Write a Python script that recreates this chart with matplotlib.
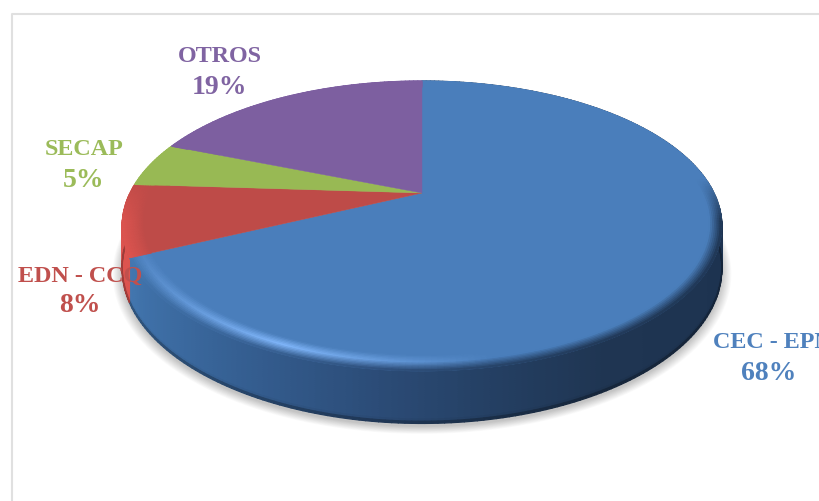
import numpy as np
import matplotlib
matplotlib.use("Agg")
import matplotlib.pyplot as plt
from matplotlib.collections import PolyCollection
from matplotlib.colors import to_rgb
from matplotlib.patches import Polygon

# Shares of the pie, clockwise from twelve o'clock
categories = ["CEC - EPN", "EDN - CCQ", "SECAP", "OTROS"]
shares = [68, 8, 5, 19]

face_colors = ["#4a7ebb", "#be4b48", "#98b954", "#7d5fa0"]
text_colors = ["#4f81bd", "#c0504d", "#9bbb59", "#8064a2"]
name_positions = [(772, 343), (80, 276), (84, 150), (220, 57)]
share_positions = [(769, 374), (80, 306), (84, 181), (220, 88)]

W, H = 820, 502
CX, CY = 422.0, 194.0     # apex of the slices on the canvas
RX, RY = 292.0, 137.5     # radii of the disc before perspective
PERSP = 0.2276            # perspective strength
DEPTH = 40.5              # height of the side wall
BEVEL = 0.93              # radius at which the rounded rim starts


def project(theta, r=1.0, drop=0.0):
    u = r * np.sin(theta)
    v = r * np.cos(theta)
    den = 1 + PERSP * v
    return CX + RX * u / den, CY - RY * v / den + drop / den


def hexes(*cols):
    return np.array([to_rgb(c) for c in cols])


# Colour of the blue wall from left to right
BLUE_U = [-1.0, -0.85, -0.5, -0.1, 0.2, 0.5, 1.0]
BLUE_SIDE = hexes("#4a80bd", "#4072aa", "#355f92", "#2b4b76", "#243f62", "#1f3552", "#1d3350")
SIDE_COLORS = [None, to_rgb("#dc544f"), to_rgb("#a3c55f"), to_rgb("#8a6cb0")]


def side_color(index, theta):
    if index == 0:
        u = np.sin(theta)
        return np.array([np.interp(u, BLUE_U, BLUE_SIDE[:, c]) for c in range(3)])
    return np.array(SIDE_COLORS[index])


def quads(xs, ys):
    """Turn two 2-D vertex grids into a list of quadrilaterals."""
    stack = np.stack([
        np.stack([xs[:-1, :-1], ys[:-1, :-1]], -1),
        np.stack([xs[1:, :-1], ys[1:, :-1]], -1),
        np.stack([xs[1:, 1:], ys[1:, 1:]], -1),
        np.stack([xs[:-1, 1:], ys[:-1, 1:]], -1),
    ], axis=2)
    return stack.reshape(-1, 4, 2)


fig = plt.figure(figsize=(W / 100, H / 100), dpi=100, facecolor="white")
ax = fig.add_axes([0, 0, 1, 1])
ax.set_xlim(0, W)
ax.set_ylim(H, 0)
ax.axis("off")

# Chart frame
ax.plot([12, 12, W], [H, 14.5, 14.5], color="#e0e0e0", lw=1.5, zorder=1)

edges = np.cumsum([0] + shares) / sum(shares) * 2 * np.pi

# Soft shadow under the disc
ring = np.linspace(0, 2 * np.pi, 360)
for grow in np.linspace(1.03, 1.0, 12):
    sx, sy = project(ring, grow, DEPTH)
    ax.add_patch(Polygon(np.c_[sx, sy + 3], closed=True, fc="black", ec="none",
                         alpha=0.02, zorder=2))

for i, (start, stop) in enumerate(zip(edges[:-1], edges[1:])):
    n = max(int((stop - start) / np.radians(1.0)), 2)
    thetas = np.linspace(start, stop, n + 1)
    mids = (thetas[:-1] + thetas[1:]) / 2
    top = np.array(to_rgb(face_colors[i]))

    # Side wall, with a thin dark line along its lower edge
    levels = np.linspace(0, 1, 25)
    grid_t, grid_l = np.meshgrid(thetas, levels)
    xs, ys = project(grid_t, 1.0, DEPTH * grid_l)
    cols = []
    for lev in (levels[:-1] + levels[1:]) / 2:
        shade = 1 - 0.4 * np.clip((lev - 0.93) / 0.07, 0, 1)
        for th in mids:
            cols.append(side_color(i, th) * shade)
    ax.add_collection(PolyCollection(quads(xs, ys), facecolors=cols, edgecolors=cols,
                                     linewidths=0.9, zorder=3))

    # Flat upper face
    px, py = project(thetas)
    ax.add_patch(Polygon(np.r_[[[CX, CY]], np.c_[px, py]], closed=True,
                         fc=top, ec=top, lw=0.3, zorder=4))

    # Rounded rim between the face and the wall
    radii = np.linspace(BEVEL, 1.0, 13)
    grid_t, grid_r = np.meshgrid(thetas, radii)
    xs, ys = project(grid_t, grid_r)
    cols = []
    for r in (radii[:-1] + radii[1:]) / 2:
        t = (r - BEVEL) / (1 - BEVEL)
        for th in mids:
            u, v = np.sin(th), np.cos(th)
            front = np.clip((0.1 - v) / 0.3, 0, 1)
            glow = np.clip(1 - abs(u + 0.4) / 0.6, 0, 1) * front
            wall = top * (1 - front) + side_color(i, th) * front
            if i == 0:
                glint = top * (1 - glow) + np.array(to_rgb("#80b6fa")) * glow
            else:
                glint = top * 0.5 + wall * 0.5
            if t < 0.45:
                c = top + (glint - top) * t / 0.45
            else:
                c = glint + (wall - glint) * (t - 0.45) / 0.55
            cols.append(c)
    ax.add_collection(PolyCollection(quads(xs, ys), facecolors=cols, edgecolors=cols,
                                     linewidths=0.7, zorder=5))

# Slice labels: name above its percentage
for name, share, color, (nx, ny), (sx, sy) in zip(categories, shares, text_colors,
                                                  name_positions, share_positions):
    ax.text(nx, ny, name, color=color, family="Liberation Serif", fontweight="bold",
            fontsize=17.4, ha="center", va="center", zorder=8)
    ax.text(sx, sy, f"{share}%", color=color, family="Liberation Serif", fontweight="bold",
            fontsize=20, ha="center", va="center", zorder=8)

fig.savefig("out.png", dpi=100, facecolor="white")
